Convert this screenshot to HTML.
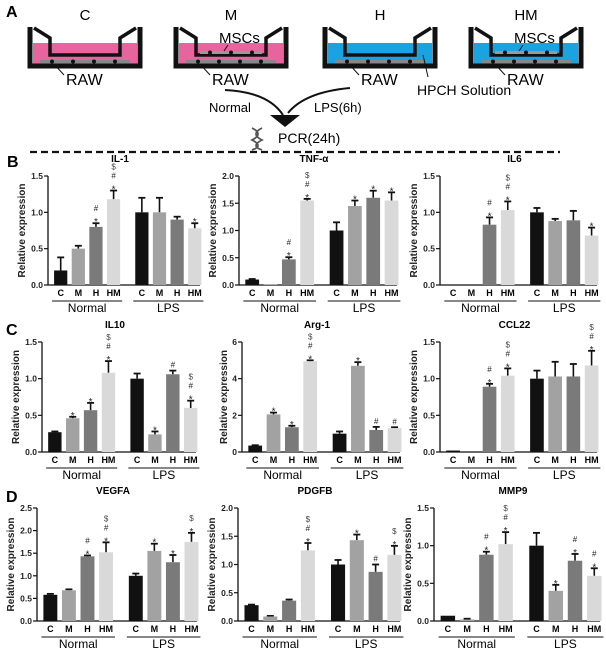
<!DOCTYPE html>
<html><head><meta charset="utf-8"><style>
html,body{margin:0;padding:0;background:#fff;}
svg{display:block;font-family:"Liberation Sans",Arial,sans-serif;}
</style></head><body>
<svg id="s" width="606" height="650" viewBox="0 0 606 650" xmlns="http://www.w3.org/2000/svg">
<rect width="606" height="650" fill="#fff"/>
<g font-weight="bold" font-size="16">
<text x="6" y="17">A</text><text x="7" y="167">B</text><text x="6" y="335">C</text><text x="6" y="502">D</text>
</g>
<g id="topg"></g>
<line x1="30" y1="152" x2="560" y2="152" stroke="#111" stroke-width="2.2" stroke-dasharray="7,4"/>
<g id="charts"></g>
</svg>
<script>
(function(){
var NS="http://www.w3.org/2000/svg";
function el(p,t,a,txt){var e=document.createElementNS(NS,t);for(var k in a)e.setAttribute(k,a[k]);if(txt!==undefined)e.textContent=txt;p.appendChild(e);return e;}
var topG=document.getElementById('topg');
var wells=[[30,'C','#e8649e',false],[176,'M','#e8649e',true],[325,'H','#1aa3e0',false],[471,'HM','#1aa3e0',true]];
wells.forEach(function(w){
 var x=w[0],W=110;
 el(topG,'text',{x:x+W/2,y:20,'font-size':15,'text-anchor':'middle'},w[1]);
 el(topG,'rect',{x:x+3,y:43,width:W-6,height:22,fill:w[2]});
 el(topG,'path',{d:'M'+x+' 27 V66 H'+(x+W)+' V27',fill:'none',stroke:'#111','stroke-width':5});
 el(topG,'path',{d:'M'+(x+4)+' 28 L'+(x+20)+' 38 V55 H'+(x+W-20)+' V38 L'+(x+W-4)+' 28',fill:'none',stroke:'#111','stroke-width':3.5});
 el(topG,'rect',{x:x+10,y:60,width:W-20,height:3,fill:'#888'});
 for(var i=0;i<4;i++)el(topG,'circle',{cx:x+22+i*21,cy:61.5,r:2,fill:'#111'});
 if(w[3]){el(topG,'rect',{x:x+24,y:51,width:W-48,height:3,fill:'#999'});
  for(var j=0;j<3;j++)el(topG,'circle',{cx:x+34+j*21,cy:52.5,r:2,fill:'#111'});
  el(topG,'text',{x:x+43,y:43,'font-size':15},'MSCs');
  el(topG,'line',{x1:x+52,y1:45,x2:x+48,y2:51,stroke:'#111','stroke-width':1});}
 el(topG,'line',{x1:x+24,y1:64,x2:x+34,y2:75,stroke:'#111','stroke-width':1});
 el(topG,'text',{x:x+36,y:85,'font-size':16},'RAW');
});
el(topG,'line',{x1:423,y1:55,x2:428,y2:77,stroke:'#111','stroke-width':1});
el(topG,'text',{x:417,y:95,'font-size':14},'HPCH Solution');
el(topG,'path',{d:'M225 90 Q268 92 283 115',fill:'none',stroke:'#111','stroke-width':2});
el(topG,'path',{d:'M350 88 Q305 92 288 113',fill:'none',stroke:'#111','stroke-width':2});
el(topG,'path',{d:'M270 115 L300 115 L285 127 Z',fill:'#111'});
el(topG,'text',{x:209,y:112,'font-size':13},'Normal');
el(topG,'text',{x:314,y:112,'font-size':13},'LPS(6h)');
el(topG,'path',{d:'M252 128 Q264 134 252 140 Q264 146 252 150 M262 128 Q250 134 262 140 Q250 146 262 150',fill:'none',stroke:'#555','stroke-width':1.8});
el(topG,'text',{x:278,y:143,'font-size':14},'PCR(24h)');

var cols=['#111','#a2a2a2','#7a7a7a','#d9d9d9'];
var panels=[
 ['IL-1',48,152,285,176,1.5,[0,.5,1,1.5],1,[[.2,.18,''],[.5,.04,''],[.8,.05,'*#'],[1.18,.12,'*#$'],[1,.2,''],[1,.2,''],[.9,.04,''],[.78,.07,'*']]],
 ['TNF-α',239,158,285,176,2,[0,.5,1,1.5,2],1,[[.1,.01,''],[.01,0,''],[.47,.04,'*#'],[1.55,.03,'*#$'],[1,.15,''],[1.45,.1,'*'],[1.6,.13,'*'],[1.55,.15,'*']]],
 ['IL6',440,157,285,176,1.5,[0,.5,1,1.5],1,[[0,0,''],[0,0,''],[.83,.1,'*#'],[1.03,.12,'*#$'],[1,.06,''],[.88,.03,''],[.89,.13,''],[.68,.11,'*']]],
 ['IL10',42,154,452,342,1.5,[0,.5,1,1.5],1,[[.27,.01,''],[.46,.02,'*'],[.57,.1,'*'],[1.08,.16,'*#$'],[1,.07,''],[.24,.04,'*'],[1.06,.05,'#'],[.6,.1,'*#$']]],
 ['Arg-1',242,158,452,342,6,[0,2,4,6],0,[[.35,.02,''],[2.05,.1,'*'],[1.35,.08,'*'],[4.95,.05,'*#$'],[1,.12,''],[4.7,.2,'*'],[1.2,.17,'#'],[1.3,.05,'#']]],
 ['CCL22',440,157,452,342,1.5,[0,.5,1,1.5],1,[[.02,0,''],[0,0,''],[.89,.04,'*#'],[1.04,.1,'*#$'],[1,.11,''],[1.03,.2,''],[1.03,.17,''],[1.18,.2,'*#$']]],
 ['VEGFA',37,160,621,508,2.5,[0,.5,1,1.5,2,2.5],1,[[.58,.02,''],[.68,.02,''],[1.43,.02,'*#'],[1.52,.22,'*#$'],[1,.05,''],[1.55,.16,'*'],[1.3,.16,'*'],[1.75,.2,'*$']]],
 ['PDGFB',238,162,621,508,2,[0,.5,1,1.5,2],1,[[.28,.01,''],[.08,.01,''],[.36,.02,''],[1.25,.13,'*#$'],[1,.08,''],[1.43,.1,'*'],[.87,.13,'#'],[1.17,.16,'*$']]],
 ['MMP9',434,166,621,508,1.5,[0,.5,1,1.5],1,[[.07,0,''],[.02,.01,''],[.88,.04,'*#'],[1.02,.16,'*#$'],[1,.17,''],[.4,.08,'*'],[.8,.09,'*#'],[.6,.1,'*#']]]
];
var g=document.getElementById('charts');
var names=['C','M','H','HM'];
panels.forEach(function(p){
 var ax=p[1],W=p[2],y0=p[3],yt=p[4],mx=p[5],ticks=p[6],dec=p[7],d=p[8];
 var sc=function(v){return y0-(v/mx)*(y0-yt);};
 var b=W*0.087,s=W*0.116,ex=W*0.07,off=W*0.04;
 el(g,'text',{x:ax+W/2-4,y:yt-14,'font-size':10,'font-weight':'bold','text-anchor':'middle'},p[0]);
 el(g,'line',{x1:ax,y1:yt,x2:ax,y2:y0,stroke:'#111','stroke-width':1.3});
 el(g,'line',{x1:ax,y1:y0,x2:ax+W,y2:y0,stroke:'#111','stroke-width':1.3});
 ticks.forEach(function(t){var y=sc(t);
  el(g,'line',{x1:ax-4,y1:y,x2:ax,y2:y,stroke:'#111','stroke-width':1.2});
  el(g,'text',{x:ax-5,y:y+3,'font-size':8.5,'font-weight':'bold','text-anchor':'end',fill:'#222'},dec?t.toFixed(1):String(t));});
 el(g,'text',{transform:'translate('+(ax-(dec?23:15))+','+((y0+yt)/2)+') rotate(-90)','font-size':10,'font-weight':'bold','text-anchor':'middle',fill:'#222'},'Relative expression');
 d.forEach(function(v,i){
  var x=ax+off+i*s+(i>3?ex:0),y=sc(v[0]);
  var cx=x+b/2;
  if(v[1]>0){var ye=sc(v[0]+v[1]);
   el(g,'line',{x1:cx,y1:y,x2:cx,y2:ye,stroke:'#111','stroke-width':1.6});
   el(g,'line',{x1:cx-3.5,y1:ye,x2:cx+3.5,y2:ye,stroke:'#111','stroke-width':1.8});}
  if(v[0]>0)el(g,'rect',{x:x,y:y,width:b,height:y0-y,fill:cols[i%4]});
  var yy=sc(v[0]+v[1])-3;
  for(var k=0;k<v[2].length;k++){var c=v[2][k];
   el(g,'text',{x:cx,y:yy+(c=='*'?5:0),'font-size':c=='*'?10:8,'text-anchor':'middle',fill:c=='$'?'#444':'#222'},c);
   yy-=9;}
  el(g,'text',{x:cx,y:y0+11,'font-size':9,'font-weight':'bold','text-anchor':'middle'},names[i%4]);
 });
 var n0=ax+off-2,n1=ax+off+3*s+b+2,l0=ax+off+4*s+ex-2,l1=ax+off+7*s+ex+b+2;
 el(g,'line',{x1:n0,y1:y0+16,x2:n1,y2:y0+16,stroke:'#111','stroke-width':1});
 el(g,'line',{x1:l0,y1:y0+16,x2:l1,y2:y0+16,stroke:'#111','stroke-width':1});
 el(g,'text',{x:(n0+n1)/2,y:y0+27,'font-size':12,'text-anchor':'middle'},'Normal');
 el(g,'text',{x:(l0+l1)/2,y:y0+27,'font-size':12,'text-anchor':'middle'},'LPS');
});
})();
</script>
</body></html>
